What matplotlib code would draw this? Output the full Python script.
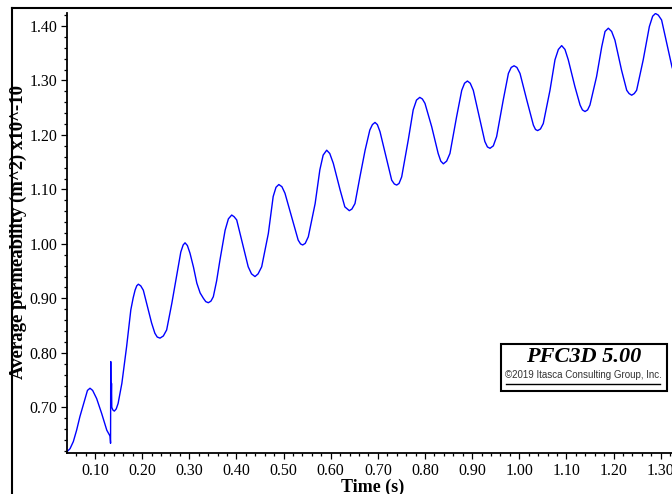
import numpy as np
import matplotlib
matplotlib.use("Agg")
import matplotlib.pyplot as plt
from matplotlib.lines import Line2D
from matplotlib.patches import Rectangle
from matplotlib.ticker import MultipleLocator, FormatStrFormatter

# values: time (s), permeability (m^2 x1e-10)
time_s = [
    0.040, 0.047, 0.054, 0.061, 0.068, 0.079, 0.084, 0.0894, 0.095, 0.1035,
    0.114, 0.125, 0.132, 0.1330, 0.1334, 0.1340, 0.1350, 0.1356, 0.138, 0.141,
    0.145, 0.149, 0.157, 0.167, 0.176, 0.181, 0.185, 0.1885, 0.192, 0.197,
    0.2025, 0.213, 0.220, 0.227, 0.232, 0.238, 0.245, 0.252, 0.263, 0.273,
    0.282, 0.287, 0.291, 0.296, 0.3015, 0.309, 0.316, 0.323, 0.330, 0.335,
    0.3404, 0.346, 0.351, 0.358, 0.365, 0.376, 0.383, 0.390, 0.395, 0.4006,
    0.411, 0.425, 0.432, 0.4394, 0.446, 0.4536, 0.4677, 0.478, 0.484, 0.490,
    0.4965, 0.503, 0.517, 0.531, 0.536, 0.5406, 0.546, 0.5525, 0.567, 0.577,
    0.584, 0.5915, 0.598, 0.6055, 0.620, 0.630, 0.6395, 0.645, 0.6515, 0.662,
    0.673, 0.683, 0.6885, 0.694, 0.699, 0.7046, 0.719, 0.7294, 0.735, 0.740,
    0.745, 0.7506, 0.7646, 0.775, 0.782, 0.789, 0.7945, 0.800, 0.8143, 0.828,
    0.8335, 0.839, 0.846, 0.853, 0.867, 0.878, 0.884, 0.890, 0.896, 0.9025,
    0.9167, 0.927, 0.9325, 0.938, 0.945, 0.952, 0.966, 0.977, 0.983, 0.989,
    0.995, 1.0016, 1.016, 1.030, 1.0345, 1.039, 1.045, 1.051, 1.0652, 1.0758,
    1.083, 1.090, 1.097, 1.104, 1.118, 1.129, 1.134, 1.1395, 1.145, 1.150,
    1.164, 1.175, 1.182, 1.189, 1.196, 1.203, 1.217, 1.228, 1.233, 1.2385,
    1.244, 1.249, 1.263, 1.276, 1.283, 1.289, 1.295, 1.302, 1.313, 1.324,
    1.338,
]
perm = [
    0.618, 0.624, 0.637, 0.658, 0.683, 0.716, 0.731, 0.735, 0.731, 0.716,
    0.689, 0.658, 0.647, 0.634, 0.784, 0.700, 0.744, 0.700, 0.695, 0.693,
    0.697, 0.707, 0.744, 0.811, 0.879, 0.901, 0.915, 0.923, 0.926, 0.923,
    0.915, 0.879, 0.855, 0.836, 0.829, 0.827, 0.831, 0.842, 0.891, 0.940,
    0.985, 0.998, 1.002, 0.997, 0.983, 0.957, 0.928, 0.910, 0.900, 0.894,
    0.892, 0.895, 0.903, 0.932, 0.970, 1.025, 1.046, 1.053, 1.050, 1.044,
    1.007, 0.958, 0.945, 0.940, 0.945, 0.958, 1.019, 1.087, 1.104, 1.109,
    1.105, 1.093, 1.050, 1.007, 1.000, 0.998, 1.001, 1.013, 1.074, 1.136,
    1.163, 1.172, 1.166, 1.148, 1.099, 1.068, 1.061, 1.064, 1.074, 1.123,
    1.172, 1.209, 1.219, 1.223, 1.219, 1.206, 1.154, 1.117, 1.110, 1.108,
    1.111, 1.123, 1.191, 1.246, 1.264, 1.269, 1.266, 1.258, 1.215, 1.166,
    1.152, 1.147, 1.152, 1.166, 1.233, 1.282, 1.295, 1.299, 1.295, 1.282,
    1.227, 1.188, 1.178, 1.1755, 1.180, 1.197, 1.264, 1.313, 1.324, 1.327,
    1.324, 1.313, 1.264, 1.218, 1.210, 1.208, 1.211, 1.221, 1.282, 1.338,
    1.357, 1.364, 1.357, 1.338, 1.289, 1.255, 1.246, 1.243, 1.246, 1.255,
    1.307, 1.362, 1.390, 1.396, 1.390, 1.374, 1.319, 1.282, 1.276, 1.273,
    1.276, 1.282, 1.338, 1.399, 1.418, 1.423, 1.420, 1.411, 1.368, 1.325,
    1.290,
]

W, H = 672, 494
fig = plt.figure(figsize=(W / 100, H / 100), dpi=100)

# axes runs past the right edge of the picture (cropped screenshot)
ax = fig.add_axes([67 / W, (H - 453) / H, (679 - 67) / W, (453 - 13) / H])
ax.plot(time_s, perm, '-', color='#0000ff', lw=1.0)

ax.set_xlim(0.0406, 1.3389)
ax.set_ylim(0.6161, 1.4239)

for side in ['top', 'right']:
    ax.spines[side].set_visible(False)
for side in ['left', 'bottom']:
    ax.spines[side].set_linewidth(1.3)

ax.xaxis.set_major_locator(MultipleLocator(0.1))
ax.xaxis.set_minor_locator(MultipleLocator(0.02))
ax.yaxis.set_major_locator(MultipleLocator(0.1))
ax.yaxis.set_minor_locator(MultipleLocator(0.02))
ax.xaxis.set_major_formatter(FormatStrFormatter('%.2f'))
ax.yaxis.set_major_formatter(FormatStrFormatter('%.2f'))
ax.tick_params(which='major', length=4, width=0.9, direction='out',
               labelsize=11.5, pad=3)
ax.tick_params(which='minor', length=2.5, width=0.9, direction='out')
for lbl in ax.get_xticklabels() + ax.get_yticklabels():
    lbl.set_family('Liberation Serif')

fig.text(18 / W, 1 - 232 / H, 'Average permeability (m^2) x10^-10',
         rotation=90, ha='center', va='center', family='Liberation Serif',
         fontweight='bold', fontsize=13.5)
fig.text(373 / W, 1 - 479 / H, 'Time (s)', ha='center', va='top',
         family='Liberation Serif', fontweight='bold', fontsize=13)

# outer frame of the plot window
fig.add_artist(Line2D([12 / W, 12 / W], [0, 1 - 8 / H], color='black',
                      lw=1.5, transform=fig.transFigure))
fig.add_artist(Line2D([12 / W, 1], [1 - 8 / H, 1 - 8 / H], color='black',
                      lw=1.5, transform=fig.transFigure))

# PFC3D stamp box
fig.add_artist(Rectangle((501 / W, 1 - 391 / H), (667 - 501) / W, 47 / H,
                         facecolor='white', edgecolor='black', lw=1.5,
                         transform=fig.transFigure, zorder=5))
fig.text(584 / W, 1 - 357 / H, 'PFC3D 5.00', ha='center', va='center',
         family='Liberation Serif', fontweight='bold', fontstyle='italic',
         fontsize=16, zorder=6)
fig.text(583 / W, 1 - 375 / H, '\u00a92019 Itasca Consulting Group, Inc.',
         ha='center', va='center', family='Liberation Sans', fontsize=7,
         color='#333333', zorder=6)
fig.add_artist(Line2D([506 / W, 660 / W], [1 - 384 / H, 1 - 384 / H],
                      color='black', lw=1.0, transform=fig.transFigure,
                      zorder=6))

fig.savefig('out.png', dpi=100)
